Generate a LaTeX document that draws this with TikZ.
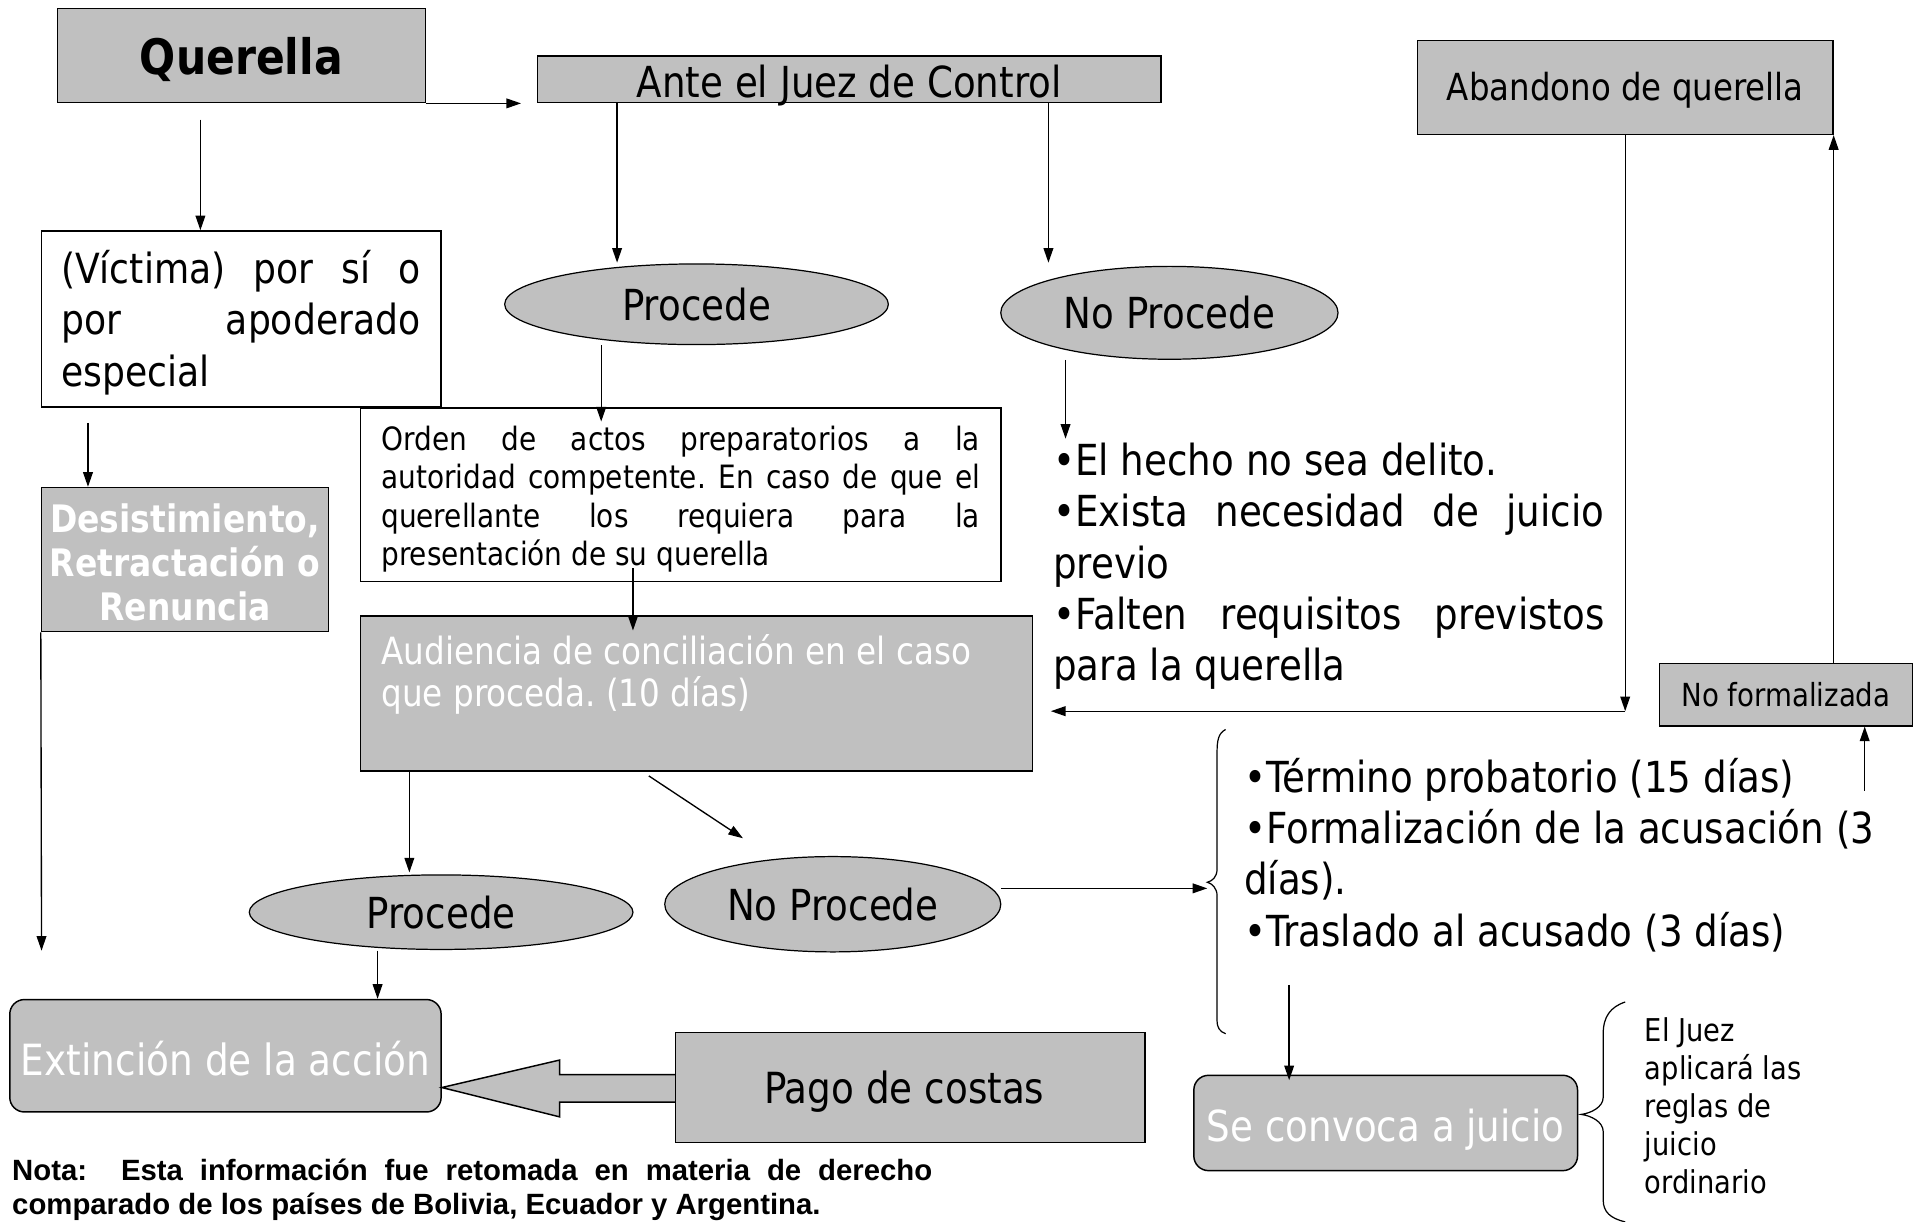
\documentclass[tikz,border=0pt]{standalone}
\usepackage{fontspec}
\setmainfont{DejaVu Sans}[FakeStretch=0.87]
\newfontfamily\notafont{Liberation Sans}
\usetikzlibrary{shapes.geometric,arrows.meta,calc}
\definecolor{boxgray}{HTML}{C0C0C0}
\hyphenpenalty=10000 \exhyphenpenalty=10000 \tolerance=9999
\frenchspacing
\newcommand\fsz[2]{\fontsize{#1}{#2}\selectfont}
\begin{document}
\begin{tikzpicture}[x=1pt,y=-1pt,
  gbox/.style={draw,fill=boxgray,line width=1.2pt,inner sep=0pt},
  wbox/.style={draw,fill=white,line width=1.2pt,inner sep=0pt},
  rbox/.style={draw,fill=boxgray,line width=1.2pt,inner sep=0pt,rounded corners=12pt},
  ell/.style={ellipse,draw,fill=boxgray,line width=1pt,inner sep=0pt},
  txt/.style={inner sep=0pt},
  bl/.style={text height=#1,text depth=0pt},
  arr/.style={line width=1.1pt,-{Triangle[length=12pt,width=8pt]}},
  brace/.style={line width=1pt}]
\useasboundingbox (0,0) rectangle (1568,1000);

% boxes
\node[gbox,minimum width=301pt,minimum height=77pt,bl=31.4pt,font=\bfseries\fsz{40}{48}] (quer) at (197.5,45.5) {Querella};
\node[gbox,minimum width=510pt,minimum height=38pt,bl=30pt,font=\fsz{35}{42}] (ante) at (695,65) {Ante el Juez de Control};
\node[gbox,minimum width=340pt,minimum height=77pt,bl=22pt,font=\fsz{30.5}{36}] (aban) at (1330,71.5) {Abandono de querella};

\node[wbox,minimum width=327pt,minimum height=144pt] (vic) at (197.5,261) {};
\node[txt,text width=294pt,align=justify,font=\fsz{34}{42}] (vicT) at (197,264) {(Víctima) por sí o\linebreak por apoderado\linebreak especial};

\node[ell,minimum width=314pt,minimum height=66pt,font=\fsz{35}{42}] (proc1) at (570,249) {Procede};
\node[ell,minimum width=276pt,minimum height=76pt,font=\fsz{35}{42}] (np1) at (957,256) {No Procede};

\node[wbox,minimum width=524pt,minimum height=142pt] (orden) at (557,405) {};
\node[txt,text width=490pt,align=justify,font=\fsz{26.3}{31.5}] (ordenT) at (557,408.5) {Orden de actos preparatorios a la\linebreak autoridad competente. En caso de que el\linebreak querellante los requiera para la\linebreak presentación de su querella};

\node[gbox,minimum width=235pt,minimum height=118pt] (desist) at (151.5,458) {};
\node[txt,align=center,text=white,font=\bfseries\fsz{31}{36}] (desistT) at (151.5,460) {Desistimiento,\\Retractación o\\Renuncia};

\node[gbox,minimum width=550pt,minimum height=127pt] (aud) at (570,567.5) {};
\node[txt,anchor=west,align=left,text=white,font=\fsz{30.7}{35}] (audT) at (312,552) {Audiencia de conciliación en el caso\\que proceda. (10 días)};

\node[txt,text width=451pt,align=justify,font=\fsz{35}{42}] (hechoT) at (1087.5,463.5) {•El hecho no sea delito.\\•Exista necesidad de juicio\linebreak previo\\•Falten requisitos previstos\linebreak para la querella};

\node[gbox,minimum width=207pt,minimum height=51pt,font=\fsz{26}{31}] (nf) at (1461.5,568.5) {No formalizada};

\node[ell,minimum width=314pt,minimum height=61pt,font=\fsz{35}{42}] (proc2) at (361,746.5) {Procede};
\node[ell,minimum width=275pt,minimum height=78pt,font=\fsz{35}{42}] (np2) at (681.5,740) {No Procede};

\node[txt,anchor=west,align=left,font=\fsz{35}{42}] (termT) at (1018,699.5) {•Término probatorio (15 días)\\•Formalización de la acusación (3\\días).\\•Traslado al acusado (3 días)};

\node[rbox,minimum width=353pt,minimum height=92pt,bl=32pt,text=white,font=\fsz{35.2}{42}] (ext) at (184.5,864) {Extinción de la acción};

% block arrow from Pago de costas to Extinción
\coordinate (pw) at (553,890);
\filldraw[fill=boxgray,line width=1.2pt] ($(pw)+(0,-10.5)$) -- (458,879.5) -- (458,867.5) -- (ext.east |- pw) -- (458,914) -- (458,902) -- ($(pw)+(0,12)$);
\node[gbox,minimum width=384pt,minimum height=90pt,bl=26pt,font=\fsz{35.1}{42}] (pago) at (745,890) {Pago de costas\hspace*{10pt}};

\node[rbox,minimum width=314pt,minimum height=78pt,bl=30pt,text=white,font=\fsz{35}{42}] (conv) at (1134,919) {Se convoca a juicio};

\node[txt,anchor=west,align=left,font=\fsz{25.7}{31}] (juezT) at (1346,905) {El Juez\\aplicará las\\reglas de\\juicio\\ordinario};

\node[txt,text width=753pt,align=justify,font=\notafont\bfseries\fsz{24}{28}] (nota) at (386.5,973.5) {Nota:~~Esta información fue retomada en materia de derecho\linebreak comparado de los países de Bolivia, Ecuador y Argentina.};

% braces
\draw[brace] (1003,597) .. controls (997,600) and (996,606) .. (996,616) -- (996,711) .. controls (996,718) and (992,721) .. (988,722) .. controls (992,723) and (996,727) .. (996,733) -- (996,835) .. controls (996,841) and (998,844) .. (1003,846);
\draw[brace] (1330,820) .. controls (1318,824) and (1312,832) .. (1312,846) -- (1312,898) .. controls (1312,906) and (1302,911) .. (1294,912) .. controls (1302,913) and (1312,918) .. (1312,926) -- (1312,982) .. controls (1312,992) and (1318,997) .. (1330,1000);

% connectors
\coordinate (q1) at (164,98);
\draw[arr] (q1) -- (q1 |- vic.north);
\draw[arr,shorten >=13pt] (quer.south east) -- (quer.south east -| ante.west);
\coordinate (p1t) at (505,215);
\draw[arr] (ante.south -| p1t) -- (p1t);
\coordinate (np1t) at (858,215);
\draw[arr] (ante.south -| np1t) -- (np1t);
\coordinate (o1) at (492,345);
\draw[arr] (proc1.south -| o1) -- (o1);
\coordinate (v1) at (72,346);
\draw[arr] (v1) -- (v1 |- desist.north);
\coordinate (d1) at (34,778);
\draw[arr] (desist.south west) -- (d1);
\coordinate (oa0) at (518,465);
\coordinate (oa1) at (518,516);
\draw[arr] (oa0) -- (oa1);
\coordinate (pr2t) at (335,714);
\draw[arr] (aud.south -| pr2t) -- (pr2t);
\coordinate (dg0) at (531,635);
\coordinate (dg1) at (608,686);
\draw[arr] (dg0) -- (dg1);
\coordinate (e1) at (309,778);
\draw[arr] (e1) -- (e1 |- ext.north);
\coordinate (n2a) at (819,727);
\coordinate (n2b) at (988,727);
\draw[arr] (n2a) -- (n2b);
\coordinate (cv0) at (1055,806);
\coordinate (cv1) at (1055,884);
\draw[arr] (cv0) -- (cv1);
\coordinate (nf1) at (1526,647);
\draw[arr] (nf1) -- (nf1 |- nf.south);
\draw[arr] (nf.north -| aban.south east) -- (aban.south east);
\coordinate (c1) at (1330,582);
\draw[arr] (aban.south) -- (c1);
\coordinate (h1) at (860,582);
\draw[arr] (c1) -- (h1);
\coordinate (t1) at (872,359);
\draw[arr] (np1.south -| t1) -- (t1);
\end{tikzpicture}
\end{document}
